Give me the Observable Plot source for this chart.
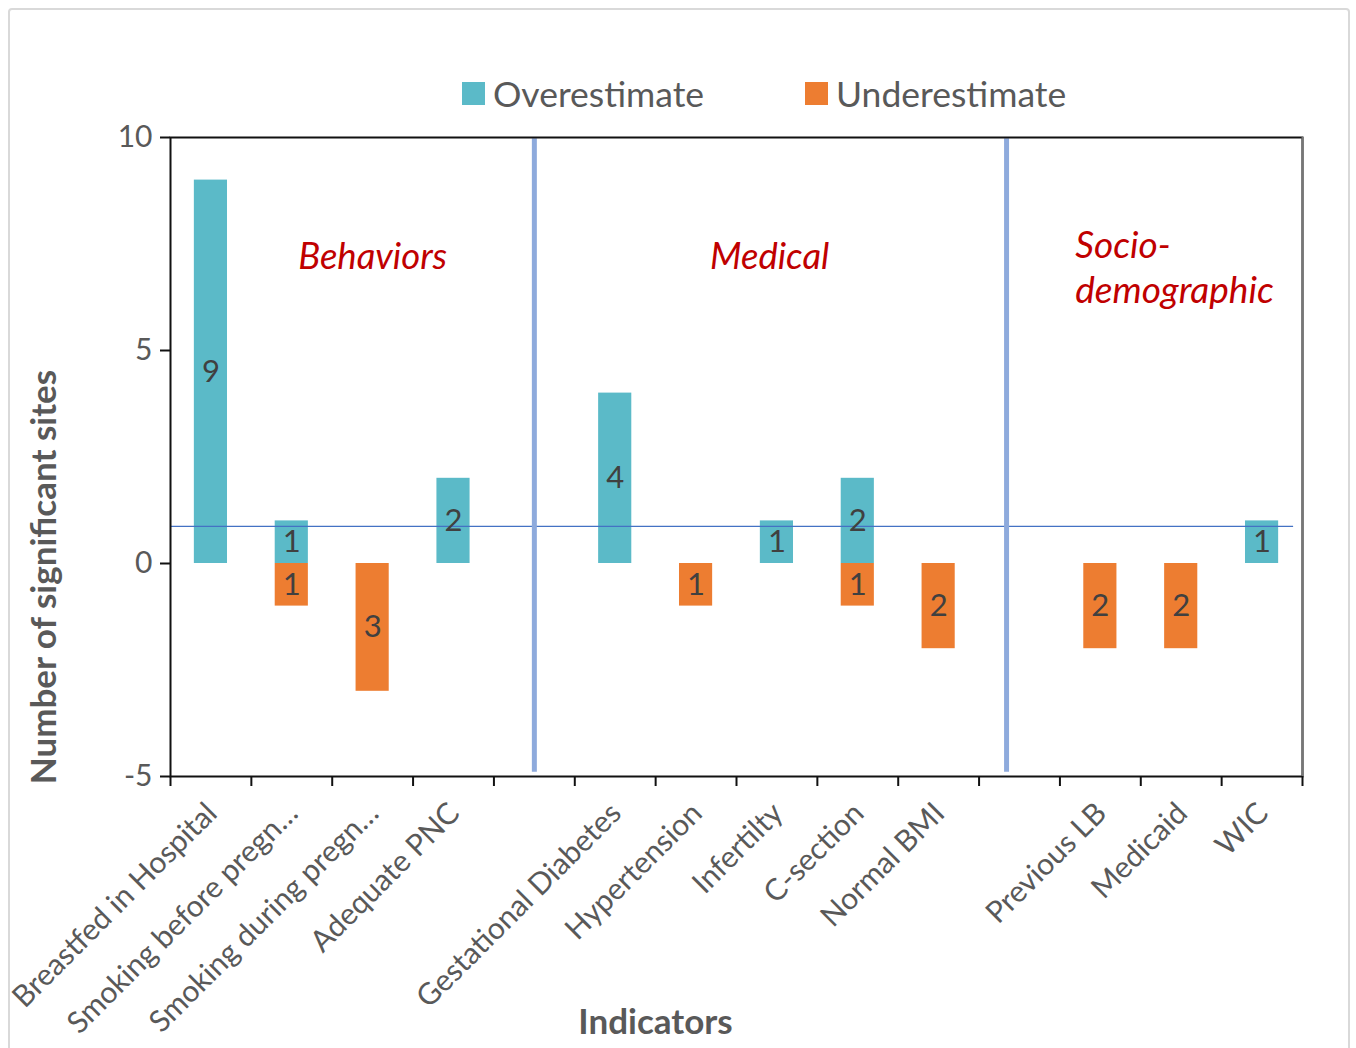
<!DOCTYPE html>
<html>
<head>
<meta charset="utf-8">
<script src="https://cdn.jsdelivr.net/npm/d3@7"></script>
<script src="https://cdn.jsdelivr.net/npm/@observablehq/plot@0.6"></script>
<style>
  html, body { margin: 0; padding: 0; background: #fff; }
  body { width: 1356px; height: 1048px; position: relative; overflow: hidden; font-family: Lato, sans-serif; }
  #border { position: absolute; left: 8px; top: 8px; width: 1342px; height: 1060px; border: 2px solid #d9d9d9; border-radius: 4px; box-sizing: border-box; }
  #chart { position: absolute; left: 0; top: 0; }
  #legend { position: absolute; top: 72px; left: 0; width: 1356px; height: 40px; font-size: 35.5px; color: #595959; }
  .item { position: absolute; top: 0; display: flex; align-items: center; }
  .sw { width: 23px; height: 23px; margin-right: 8px; }
</style>
</head>
<body>
<div id="border"></div>
<div id="chart"></div>
<div id="legend"></div>
<script>
const categories = ["Breastfed in Hospital", "Smoking before pregn…", "Smoking during pregn…", "Adequate PNC", "", "Gestational Diabetes", "Hypertension", "Infertilty", "C-section", "Normal BMI", "", "Previous LB", "Medicaid", "WIC"];
const overestimate = [9, 1, 0, 2, 0, 4, 0, 1, 2, 0, 0, 0, 0, 1];
const underestimate = [0, 1, 3, 0, 0, 0, 1, 0, 1, 2, 0, 2, 2, 0];
const seriesNames = ["Overestimate", "Underestimate"];
const seriesColors = ["#5bbac8", "#ed7d31"];
const yTicks = [-5, 0, 5, 10];
const groupNames = ["Behaviors", "Medical", "Socio-\ndemographic"];
const separators = [5, 10.84];
const referenceLevel = 0.87;

const rows = [];
categories.forEach((c, k) => {
  if (overestimate[k] > 0) rows.push({i: k + 1, series: seriesNames[0], v: overestimate[k]});
  if (underestimate[k] > 0) rows.push({i: k + 1, series: seriesNames[1], v: -underestimate[k]});
});
const idx = d3.range(1, categories.length + 1);
const bounds = d3.range(0.5, categories.length + 1, 1);
const txt = "#595959";

const plot = Plot.plot({
  width: 1356,
  height: 1048,
  marginLeft: 170,
  marginRight: 54,
  marginTop: 137,
  marginBottom: 272,
  style: {fontFamily: "Lato, sans-serif", color: txt, background: "transparent"},
  x: {type: "linear", domain: [0.5, categories.length + 0.5]},
  y: {domain: [-5, 10]},
  color: {domain: seriesNames, range: seriesColors},
  marks: [
    Plot.rectY(rows, {x1: d => d.i - 0.205, x2: d => d.i + 0.205, y1: 0, y2: "v", fill: "series"}),
    Plot.ruleY([referenceLevel], {x1: 0.5, x2: 14.39, stroke: "#4472c4", strokeWidth: 1.3}),
    Plot.ruleX(separators, {y1: -4.9, y2: 9.97, stroke: "#8eaadc", strokeWidth: 5}),
    Plot.text(rows, {x: "i", y: d => d.v / 2, text: d => String(Math.abs(d.v)), fontSize: 31, fill: "#404040"}),
    Plot.frame({stroke: "#111", strokeWidth: 2}),
    Plot.ruleX([categories.length + 0.5], {stroke: "#777", strokeWidth: 2}),
    Plot.axisY({ticks: yTicks, tickSize: 10, tickPadding: 8, tickFormat: d => String(d), fontSize: 30, fill: txt, stroke: "#111", strokeWidth: 2, label: null}),
    Plot.axisX({ticks: bounds, tickSize: 10, tickFormat: () => "", stroke: "#111", strokeWidth: 2, label: null}),
    Plot.axisX({ticks: idx, tickSize: 0, tickRotate: -45, tickFormat: i => categories[i - 1], fontSize: 30, fill: txt, textAnchor: "end", dx: 1, dy: 20, label: null}),
    Plot.text([groupNames[0]], {x: 3.0, y: 7.18, text: d => d, fontSize: 36.5, fontStyle: "italic", fill: "#c00000"}),
    Plot.text([groupNames[1]], {x: 7.91, y: 7.18, text: d => d, fontSize: 36.5, fontStyle: "italic", fill: "#c00000"}),
    Plot.text([groupNames[2]], {x: 11.69, y: 6.99, text: d => d, fontSize: 37, fontStyle: "italic", fill: "#c00000", textAnchor: "start", lineHeight: 1.22}),
    Plot.text(["Number of significant sites"], {frameAnchor: "left", textAnchor: "middle", lineAnchor: "middle", dx: -126, dy: 120, rotate: -90, text: d => d, fontSize: 35, fontWeight: "bold", fill: txt}),
    Plot.text(["Indicators"], {frameAnchor: "bottom", textAnchor: "middle", lineAnchor: "middle", dx: -81, dy: 246, text: d => d, fontSize: 35, fontWeight: "bold", fill: txt})
  ]
});
document.getElementById("chart").appendChild(plot);

const legend = document.getElementById("legend");
const legendLeft = [462, 805];
seriesNames.forEach((s, k) => {
  const it = document.createElement("div");
  it.className = "item";
  it.style.left = legendLeft[k] + "px";
  it.innerHTML = `<div class="sw" style="background:${seriesColors[k]}"></div><span>${s}</span>`;
  legend.appendChild(it);
});
</script>
</body>
</html>
